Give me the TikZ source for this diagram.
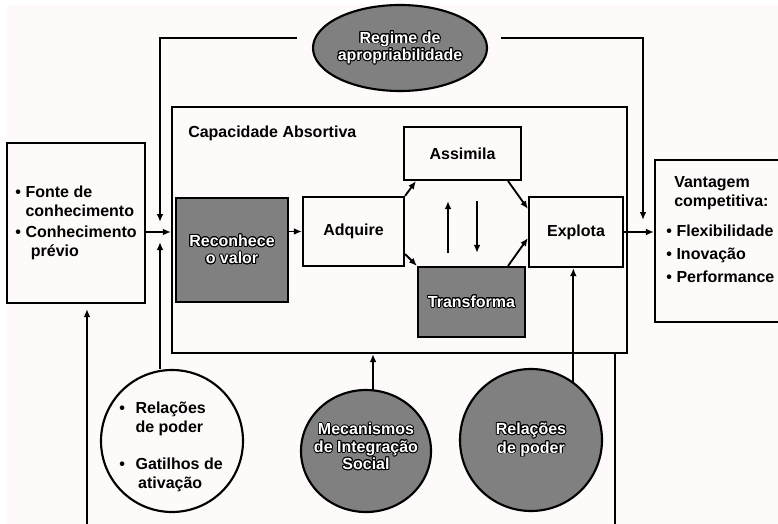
\documentclass[tikz,border=0pt]{standalone}
\usepackage{fontspec}
\setmainfont{Liberation Sans}
\usepackage[copies]{contour}
\contourlength{0.7pt}
\usetikzlibrary{arrows.meta,calc,shapes.geometric}
\definecolor{papel}{RGB}{253,250,249}
\definecolor{cinza}{RGB}{128,128,128}
% texto branco com contorno preto
\newcommand{\branco}[1]{{\color{white}\contour{black}{#1}}}
\begin{document}
\begin{tikzpicture}[x=0.75pt,y=-0.75pt,
  every node/.style={font=\fontsize{12}{14.5}\selectfont\bfseries},
  box/.style={rectangle,draw=black,line width=1.6pt},
  darkbox/.style={box,fill=cinza},
  bola/.style={draw=black,line width=1.6pt,inner sep=0pt},
  arr/.style={-{Latex[length=6pt,width=5pt]},line width=1.4pt}]
\useasboundingbox (0,0) rectangle (778,524);
\clip (0,0) rectangle (778,524);
\fill[papel] (7,5) rectangle (778,524);
% capacidade absortiva
\node[box,minimum width=341.25pt,minimum height=184.5pt] (capacidade) at (399.5,230) {};
\node[anchor=base west,inner sep=0pt] (capTitulo) at (188,138) {Capacidade Absortiva};
\node[darkbox,minimum width=84pt,minimum height=78pt,align=center,font=\fontsize{12}{13}\selectfont\bfseries] (reconhece) at (232,250) {\branco{Reconhece}\\\branco{o valor}};
\node[box,minimum width=75.75pt,minimum height=51.75pt] (adquire) at (353.5,231.5) {Adquire};
\node[box,minimum width=87.75pt,minimum height=39.75pt] (assimila) at (462.5,153.5) {Assimila};
\node[darkbox,minimum width=80.25pt,minimum height=52.5pt] (transforma) at (471.5,302) {\branco{Transforma}};
\node[box,minimum width=70.5pt,minimum height=52.5pt] (explota) at (576,232) {Explota};
% entrada e saida
\node[box,minimum width=103.5pt,minimum height=120pt] (fonte) at (76,223) {%
  \begin{tabular}{@{}l@{\hspace{3.5pt}}l@{}}
  \textbullet & Fonte de\\
   & conhecimento\\[1pt]
  \textbullet & Conhecimento\\
   & \hspace{4pt}prévio
  \end{tabular}};
\node[box,minimum width=101.25pt,minimum height=121.5pt] (vantagem) at (722.5,241) {};
\node[anchor=west,inner sep=0pt] (vantagemTxt) at (666,231) {%
  \begin{tabular}{@{}l@{\hspace{3.5pt}}l@{}}
  \multicolumn{2}{@{}l@{}}{\hspace{6pt}Vantagem}\\
  \multicolumn{2}{@{}l@{}}{\hspace{6pt}competitiva:}\\[7.5pt]
  \textbullet & Flexibilidade\\[2.75pt]
  \textbullet & Inovação\\[2.75pt]
  \textbullet & Performance
  \end{tabular}};
% elipses e circulos
\node[bola,ellipse,fill=cinza,minimum width=130.5pt,minimum height=64.5pt] (regime) at (400,48) {};
\node[align=center,font=\fontsize{12}{11.5}\selectfont\bfseries] (regimeTxt) at (regime) {\branco{Regime de}\\\branco{apropriabilidade}};
\node[bola,circle,fill=papel,minimum size=106.5pt] (poderL) at (172,441) {};
\node (poderLTxt) at ($(poderL)+(-1,6)$) {%
  \begin{tabular}{@{}l@{\hspace{8pt}}l@{}}
  \textbullet & Relações\\
   & de poder\\[13pt]
  \textbullet & Gatilhos de\\
   & \hspace{2pt}ativação
  \end{tabular}};
\node[bola,ellipse,fill=cinza,minimum width=97.5pt,minimum height=91.5pt] (mecanismos) at (366,451) {};
\node[align=center,font=\fontsize{12}{13}\selectfont\bfseries] (mecanismosTxt) at ($(mecanismos)+(0,-4)$) {\branco{Mecanismos}\\\branco{de Integração}\\\branco{Social}};
\node[bola,circle,fill=cinza,minimum size=106.5pt,align=center,font=\fontsize{12}{14}\selectfont\bfseries] (poderR) at (531,440) {\branco{Relações}\\\branco{de poder}};
% ligacoes
\coordinate (jL) at (160,232);
\coordinate (jR) at (643,232);
\coordinate (fbL) at (87,530);
\coordinate (fbR) at (615,530);
\draw[arr,shorten >=7.5pt] ($(regime.west)+(-15,-10)$) -| (jL);
\draw[arr,shorten >=9pt] ($(regime.east)+(13,-10)$) -| (jR);
\draw[arr] (fonte.east |- jL) -- (capacidade.west |- jL);
\draw[arr] (reconhece.east |- adquire.west) -- (adquire.west);
\draw[arr] (adquire.north east) -- ($(assimila.south west)+(13,0)$);
\draw[arr] ($(adquire.south east)+(0,-13)$) -- (transforma.north west);
\draw[arr] ($(assimila.south east)+(-14,0)$) -- ($(explota.north west)+(0,13)$);
\draw[arr] ($(transforma.north east)+(-18,0)$) -- ($(explota.west)+(0,6)$);
\draw[arr] ($(transforma.north)+(-23.5,-13)$) -- ($(assimila.south)+(-14.5,20)$);
\draw[arr] ($(assimila.south)+(14.5,20)$) -- ($(transforma.north)+(5.5,-13)$);
\draw[arr] (explota.east) -- (vantagem.west |- explota.east);
\draw[arr,shorten >=7.5pt] (jL |- poderL.north) -- (jL);
\draw[arr] ($(mecanismos.north)+(7,1)$) coordinate (m) -- (m |- capacidade.south);
\draw[arr] (poderR.54) -- (poderR.54 |- explota.south);
\draw[line width=1.4pt] (capacidade.south -| fbR) -- (fbR);
\draw[arr,shorten >=3.75pt] (fbL) -- (fonte.south -| fbL);
\end{tikzpicture}
\end{document}
